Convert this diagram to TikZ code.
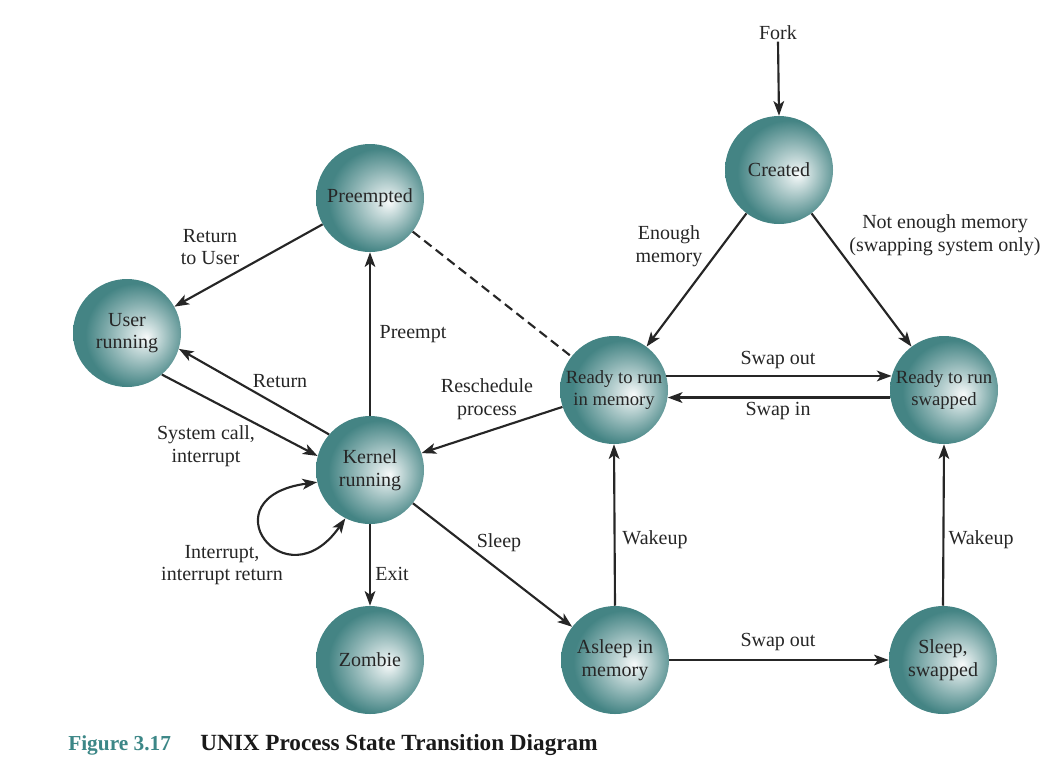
\documentclass[tikz,border=0pt]{standalone}
\usepackage{fontspec}
\setmainfont{Liberation Serif}
\usetikzlibrary{arrows.meta}
\definecolor{tealc}{RGB}{68,132,132}
\definecolor{capteal}{RGB}{60,135,135}
\pgfdeclareradialshading{ballteal}{\pgfpoint{9bp}{-2bp}}{%
  color(0bp)=(white!96!tealc); color(5bp)=(white!75!tealc); color(15bp)=(white!35!tealc); color(24bp)=(tealc); color(50bp)=(tealc)}
\tikzset{
  state/.style={circle, minimum size=81pt, inner sep=0pt, shading=ballteal, draw=none,
    align=center, font=\fontsize{15}{17}\selectfont, text=black!85},
  smallstate/.style={state, font=\fontsize{14}{16.5}\selectfont},
  lbl/.style={align=center, font=\fontsize{15}{17}\selectfont, text=black!85, inner sep=1pt},
  tip/.style={Stealth[length=11pt,width=8pt,inset=2.8pt]},
  conn/.style={line width=1.6pt, black!85, -{Stealth[length=11pt,width=8pt,inset=2.8pt]}},
  dconn/.style={line width=1.6pt, black!85, dashed, dash pattern=on 7pt off 4pt},
}
\begin{document}
\begin{tikzpicture}[x=0.75pt, y=-0.75pt]
\useasboundingbox (0,0) rectangle (1052,772);
% states
\node[state] (cr) at (779,170) {Created};
\node[state] (pre) at (370,198) {Preempted};
\node[state] (ur) at (127,333) {User\\running};
\node[state] (kr) at (370,470) {Kernel\\running};
\node[state] (zb) at (370,660) {Zombie};
\node[smallstate] (rm) at (614,390) {Ready to run\\in memory};
\node[smallstate] (rs) at (944,390) {Ready to run\\swapped};
\node[state] (am) at (615,660) {Asleep in\\memory};
\node[state] (ss) at (943,660) {Sleep,\\swapped};
% labels
\node[lbl] (lfork) at (778,33) {Fork};
\node[lbl] (lenough) at (669,246) {Enough\\memory};
\node[lbl] (lnot) at (945,235) {Not enough memory\\(swapping system only)};
\node[lbl] (lrtu) at (210,247) {Return\\to User};
\node[lbl] (lpreempt) at (413,334) {Preempt};
\node[lbl] (lret) at (280,381) {Return};
\node[lbl] (lresch) at (487,399) {Reschedule\\process};
\node[lbl] (lsys) at (206,446) {System call,\\interrupt};
\node[lbl] (lswo) at (778,360) {Swap out};
\node[lbl] (lswi) at (778,411) {Swap in};
\node[lbl] (lint) at (222,565) {Interrupt,\\interrupt return};
\node[lbl] (lexit) at (392,574) {Exit};
\node[lbl] (lsleep) at (499,543) {Sleep};
\node[lbl] (lwk1) at (655,540) {Wakeup};
\node[lbl] (lwk2) at (981,540) {Wakeup};
\node[lbl] (lswo2) at (778,642) {Swap out};
% connectors
\draw[conn] (lfork.south) -- (cr.north);
\draw[conn] (cr) -- (rm);
\draw[conn] (cr) -- (rs);
\draw[conn] (rm.15) -- (rs.165);
\draw[conn] (rs.188.5) -- (rm.-8.5);
\draw[conn] (pre) -- (ur);
\draw[dconn] (pre) -- (rm);
\draw[conn] (kr.north) -- (pre.south);
\draw[conn] (kr.139) -- (ur.-17);
\draw[conn] (ur.-50) -- (kr.165);
\draw[conn] (rm) -- (kr);
\draw[conn] (kr.south) -- (zb.north);
\draw[conn] (kr) -- (am);
\draw[conn] (am.north) -- (rm.south);
\draw[conn] (am.east) -- (ss.west);
\draw[conn] (ss.north) -- (rs.south);
\draw[line width=1.6pt, black!85, {Stealth[length=11pt,width=8pt,inset=2.8pt]}-{Stealth[length=11pt,width=8pt,inset=2.8pt]}]
  (kr.193) .. controls (205,497) and (285,605) .. (kr.243);
% caption
\node[anchor=base west, inner sep=0pt, font=\fontsize{16}{18}\selectfont\bfseries, text=capteal] (fig) at (68,750) {Figure 3.17};
\node[anchor=base west, inner sep=0pt, font=\fontsize{17.4}{19}\selectfont\bfseries, text=black!90] (title) at (200,750) {UNIX Process State Transition Diagram};
\end{tikzpicture}
\end{document}
